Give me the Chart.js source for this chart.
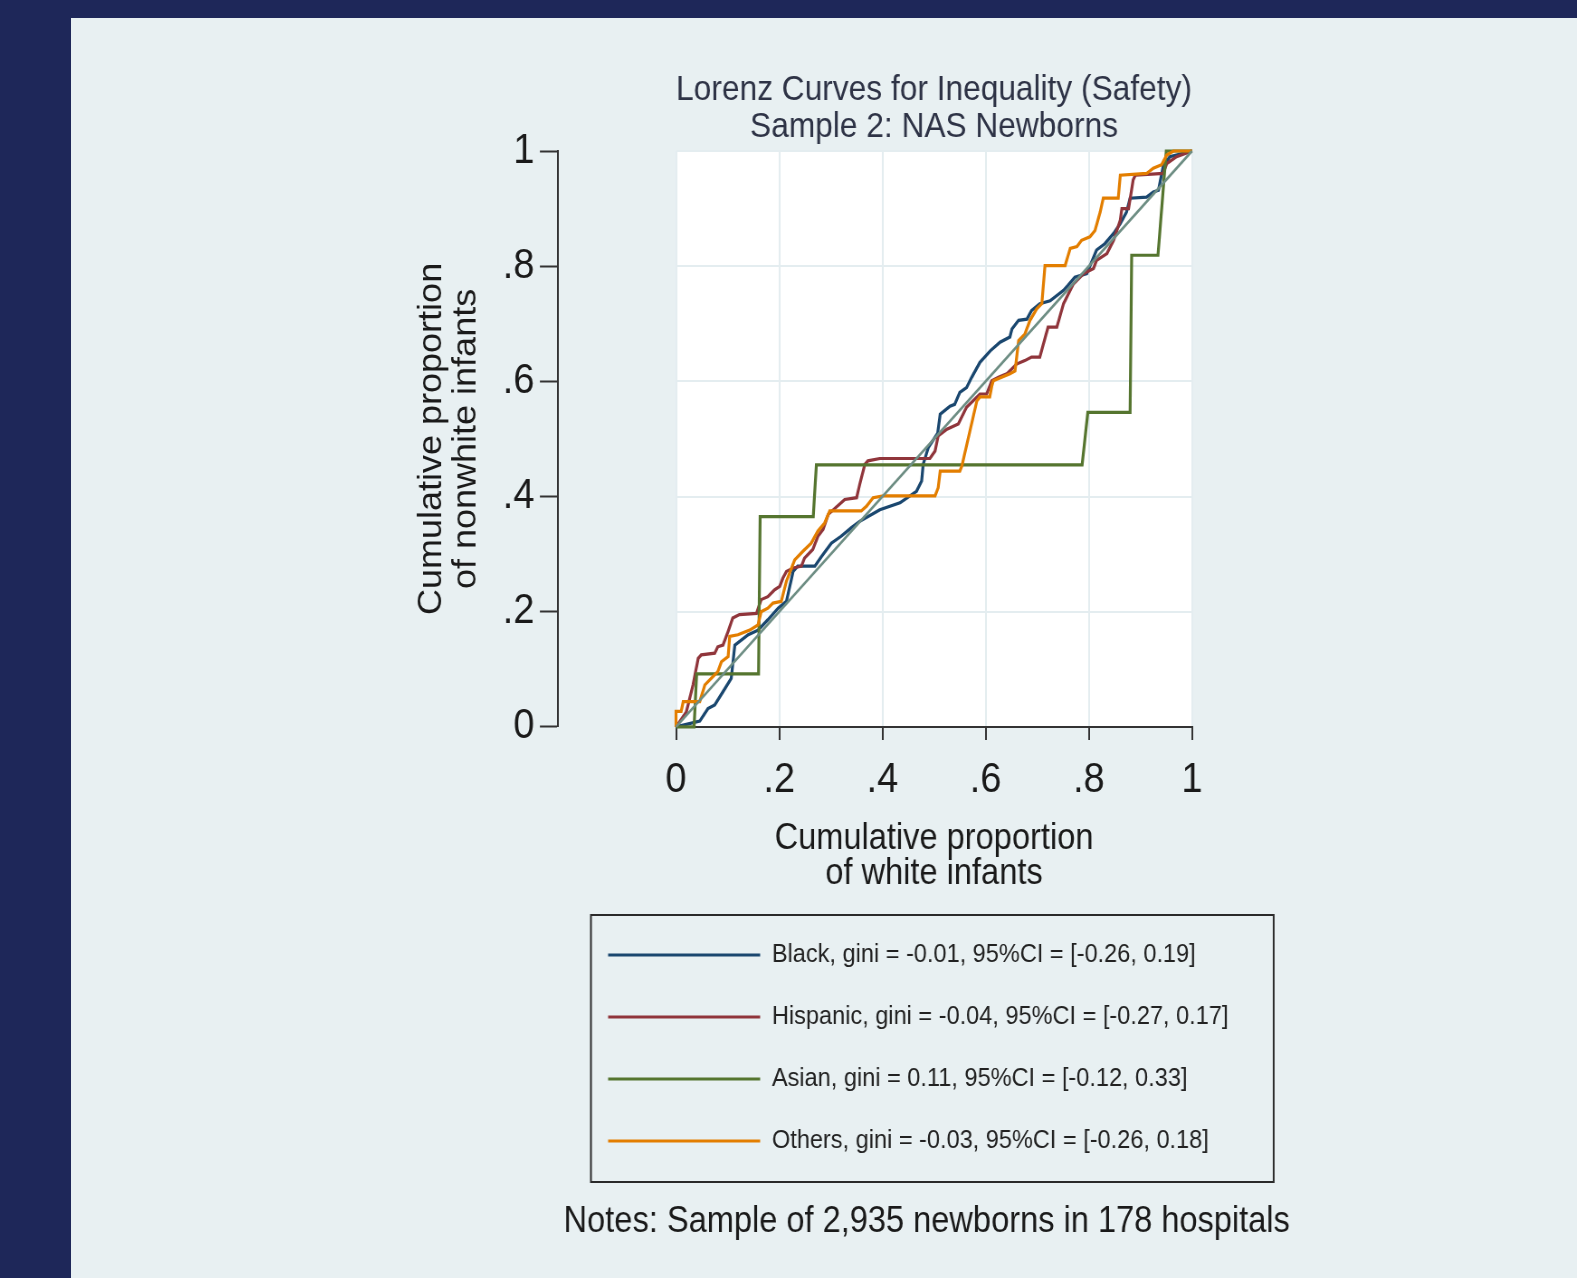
<!DOCTYPE html>
<html>
<head>
<meta charset="utf-8">
<title>Lorenz Curves for Inequality (Safety)</title>
<script src="https://cdn.jsdelivr.net/npm/chart.js@4"></script>
<style>
  html, body { margin: 0; padding: 0; }
  body { width: 1577px; height: 1278px; background: #1e2759; overflow: hidden; position: relative; }
  .panel { position: absolute; left: 71px; top: 18px; width: 1506px; height: 1260px; background: #e8f0f2; overflow: hidden; }
  /* the source picture is squeezed sideways, so the canvas is too */
  #lorenz { position: absolute; left: 0; top: 0; transform: scaleX(0.905); transform-origin: 0 0; }
</style>
</head>
<body>
<div class="panel"><canvas id="lorenz" width="1664" height="1260"></canvas></div>
<script>
//DATA
const tickValues = [0, 0.2, 0.4, 0.6, 0.8, 1];
const tickLabels = ['0', '.2', '.4', '.6', '.8', '1'];

const seriesLabels = [
  'Black, gini = -0.01, 95%CI = [-0.26, 0.19]',
  'Hispanic, gini = -0.04, 95%CI = [-0.27, 0.17]',
  'Asian, gini = 0.11, 95%CI = [-0.12, 0.33]',
  'Others, gini = -0.03, 95%CI = [-0.26, 0.18]'
];
const notesText = 'Notes: Sample of 2,935 newborns in 178 hospitals';

const blackX = [0, .046, .062, .075, .091, .107, .114, .140, .159, .178, .198, .214, .227, .236, .269, .282, .301, .320, .340, .356,
  .395, .434, .466, .476, .479, .489, .507, .512, .531, .540, .550, .563, .573, .589, .609, .628, .647, .651, .664, .680,
  .689, .705, .725, .751, .760, .773, .796, .815, .831, .848, .861, .873, .880, .912, .925, .935, .944, .957, .983, 1];
const blackY = [0, .010, .032, .038, .061, .084, .142, .160, .168, .186, .206, .218, .270, .279, .279, .296, .319, .331, .346, .357,
  .377, .389, .409, .427, .456, .485, .510, .543, .557, .560, .581, .589, .607, .633, .653, .668, .677, .691, .706, .708,
  .723, .735, .740, .758, .767, .781, .787, .828, .839, .857, .874, .894, .918, .920, .929, .932, .973, .990, .996, 1];

const hispX = [0, .020, .033, .043, .049, .075, .081, .091, .101, .110, .123, .156, .165, .178, .191, .201, .207, .214, .227, .243,
  .249, .265, .275, .285, .295, .327, .350, .356, .366, .372, .395, .492, .502, .508, .525, .547, .563, .589, .602, .612,
  .625, .641, .660, .676, .689, .705, .712, .721, .738, .751, .770, .790, .809, .815, .835, .848, .861, .864, .877, .886,
  .890, .944, .951, .970, 1];
const hispY = [0, .026, .073, .119, .125, .128, .139, .142, .166, .189, .195, .197, .221, .226, .238, .244, .258, .270, .276, .279,
  .293, .308, .331, .343, .369, .395, .398, .421, .456, .462, .466, .466, .479, .505, .517, .526, .555, .578, .578, .601,
  .607, .613, .630, .636, .642, .642, .665, .694, .694, .735, .769, .787, .796, .810, .822, .845, .880, .900, .900, .950,
  .958, .961, .978, .990, 1];

const asianX = [0, .035, .040, .160, .163, .266, .272, .787, .798, .880, .883, .934, .950, 1];
const asianY = [0, 0, .092, .092, .365, .365, .455, .455, .546, .546, .819, .819, 1, 1];

const othersX = [0, 0, .010, .014, .046, .056, .081, .088, .101, .104, .120, .143, .159, .165, .178, .188, .204, .214, .230, .246,
  .262, .275, .288, .298, .359, .369, .382, .402, .502, .508, .512, .550, .554, .583, .589, .608, .612, .615, .647, .657,
  .664, .676, .686, .699, .709, .715, .754, .764, .777, .786, .802, .812, .822, .828, .857, .861, .912, .925, .941, .951,
  .964, 1];
const othersY = [0, .027, .027, .044, .044, .073, .096, .113, .122, .157, .160, .168, .177, .200, .206, .215, .218, .253, .290, .305,
  .319, .340, .354, .375, .375, .383, .398, .401, .401, .415, .444, .444, .453, .566, .573, .573, .592, .601, .613, .618,
  .671, .682, .706, .726, .735, .801, .801, .831, .834, .845, .851, .862, .894, .918, .918, .958, .961, .970, .976, .993,
  1, 1];

const equalityX = [0, 1];
const equalityY = [0, 1];

//STYLE
const FONT = "'Liberation Sans', Arial, Helvetica, sans-serif";
const AXIS = '#333333';
const GRID = '#e4edf0';
const INK = '#1a1a1a';

Chart.defaults.font.family = FONT;
Chart.defaults.color = INK;

const toPoints = (xs, ys) => xs.map((x, i) => ({ x: x, y: ys[i] }));

function lineSet(label, xs, ys, color, order, width) {
  return {
    label: label,
    data: toPoints(xs, ys),
    borderColor: color,
    backgroundColor: color,
    borderWidth: width,
    pointRadius: 0,
    pointHoverRadius: 0,
    tension: 0,
    clip: 8,
    order: order
  };
}

const fixTicks = scale => { scale.ticks = tickValues.map(v => ({ value: v })); };

//PLUGINS
const plotBackground = {
  id: 'plotBackground',
  beforeDraw(chart) {
    const { ctx, chartArea: a } = chart;
    ctx.save();
    ctx.fillStyle = '#ffffff';
    ctx.fillRect(a.left, a.top, a.width, a.height);
    ctx.restore();
  }
};

// legend and note sit under the plot but are not centred on the canvas
const bottomBoxes = {
  id: 'bottomBoxes',
  afterLayout(chart) {
    const a = chart.chartArea;
    const lg = chart.legend;
    const dx = a.left - 111 - lg.left;
    lg.left += dx;
    lg.right += dx;
    const notes = chart.boxes.find(b => b.options && b.options.text === notesText);
    if (notes) {
      const cx = (a.left + a.right) / 2 - 8;
      notes.left = cx - 500;
      notes.right = cx + 500;
      notes.width = 1000;
    }
  },
  afterDraw(chart) {
    const { ctx } = chart;
    const lg = chart.legend;
    const lo = lg.options.labels;
    ctx.save();
    ctx.font = lo.font.size + 'px ' + FONT;
    const textW = Math.max(...lg.legendItems.map(it => ctx.measureText(it.text).width));
    const left = lg.left + 17;
    const right = lg.left + lo.padding + lo.boxWidth + lo.font.size / 2 + textW + 50;
    const top = lg.top + 9;
    const bottom = lg.bottom + 18;
    ctx.strokeStyle = '#2a2a2a';
    ctx.lineWidth = 2;
    ctx.strokeRect(left, top, right - left, bottom - top);
    ctx.restore();
  }
};

//CHART
const ctx = document.getElementById('lorenz');

new Chart(ctx, {
  type: 'line',
  data: {
    datasets: [
      lineSet(seriesLabels[0], blackX, blackY, '#1a476f', 4, 3.2),
      lineSet(seriesLabels[1], hispX, hispY, '#90353b', 3, 3.2),
      lineSet(seriesLabels[2], asianX, asianY, '#55752f', 2, 3.2),
      lineSet(seriesLabels[3], othersX, othersY, '#e37e00', 1, 3.2),
      lineSet('Equality', equalityX, equalityY, '#6e8e84', 0, 2.6)
    ]
  },
  options: {
    responsive: false,
    animation: false,
    devicePixelRatio: 1,
    events: [],
    layout: { padding: { top: 46, left: 370, right: 425.3, bottom: 38 } },
    scales: {
      x: {
        type: 'linear',
        min: 0,
        max: 1,
        afterBuildTicks: fixTicks,
        ticks: {
          callback: (v, i) => tickLabels[i],
          font: { size: 42, lineHeight: 1 },
          color: INK,
          padding: 20,
          maxRotation: 0,
          autoSkip: false
        },
        grid: { color: GRID, lineWidth: 2, tickColor: AXIS, tickWidth: 2, tickLength: 13 },
        border: { color: AXIS, width: 2 },
        title: {
          display: true,
          text: ['Cumulative proportion', 'of white infants'],
          font: { size: 36, lineHeight: 0.96 },
          color: INK,
          padding: { top: 0, bottom: 15 }
        }
      },
      y: {
        type: 'linear',
        position: 'left',
        weight: 0,
        min: 0,
        max: 1,
        afterBuildTicks: fixTicks,
        ticks: { display: false },
        grid: { color: GRID, lineWidth: 2, drawTicks: false },
        border: { display: false },
        afterFit: s => { s.width = 130.4; }
      },
      yAxis: {
        type: 'linear',
        position: 'left',
        weight: 1,
        min: 0,
        max: 1,
        afterBuildTicks: fixTicks,
        ticks: {
          callback: (v, i) => tickLabels[i],
          font: { size: 42, lineHeight: 1 },
          color: INK,
          padding: 6,
          autoSkip: false
        },
        grid: { drawOnChartArea: false, tickColor: AXIS, tickWidth: 2, tickLength: 20 },
        border: { color: AXIS, width: 2 },
        title: {
          display: true,
          text: ['Cumulative proportion', 'of nonwhite infants'],
          font: { size: 36, lineHeight: 1.05 },
          color: INK,
          padding: { top: 10, bottom: 0 }
        },
        afterFit: s => { s.width = 168.1; }
      }
    },
    plugins: {
      title: {
        display: true,
        fullSize: false,
        text: ['Lorenz Curves for Inequality (Safety)', 'Sample 2: NAS Newborns'],
        font: { size: 35, lineHeight: 37 / 35, weight: 'normal' },
        color: '#2e3346',
        padding: { top: 7.5, bottom: 5.5 }
      },
      subtitle: {
        display: true,
        position: 'bottom',
        fullSize: false,
        text: notesText,
        font: { size: 36, lineHeight: 1, weight: 'normal' },
        color: INK,
        padding: { top: 40, bottom: 0 }
      },
      legend: {
        position: 'bottom',
        align: 'start',
        labels: {
          boxWidth: 168,
          boxHeight: 3,
          padding: 36,
          color: '#222222',
          font: { size: 26 },
          filter: item => item.datasetIndex < 4,
          sort: (a, b) => a.datasetIndex - b.datasetIndex,
          generateLabels: chart => Chart.defaults.plugins.legend.labels.generateLabels(chart)
            .map(item => Object.assign({}, item, { fillStyle: item.strokeStyle, lineWidth: 0 }))
        }
      },
      tooltip: { enabled: false }
    }
  },
  plugins: [plotBackground, bottomBoxes]
});
</script>
</body>
</html>
